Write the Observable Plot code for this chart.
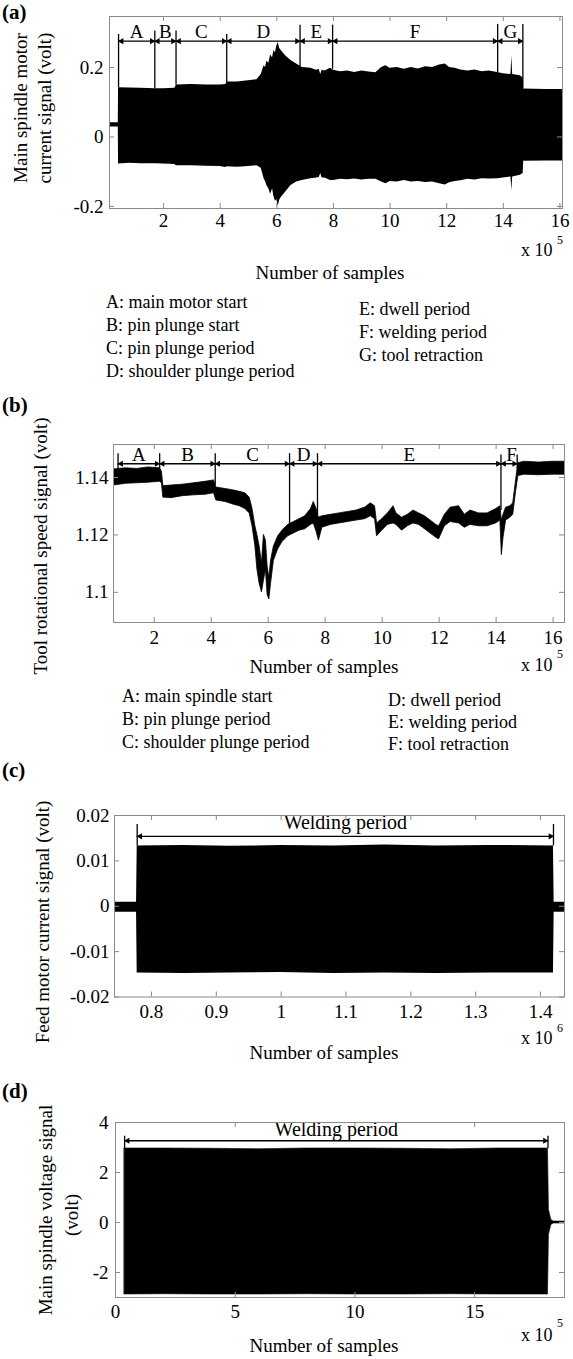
<!DOCTYPE html>
<html><head><meta charset="utf-8">
<script src="https://cdn.jsdelivr.net/npm/d3@7"></script>
<script src="https://cdn.jsdelivr.net/npm/@observablehq/plot@0.6"></script>
<style>
html,body{margin:0;padding:0;background:#fff;}
#fig{position:relative;width:573px;height:1359px;overflow:hidden;background:#fff;font-family:"Liberation Serif","DejaVu Serif",serif;color:#000;}
.t{position:absolute;white-space:nowrap;line-height:1;}
.plot{position:absolute;left:0;}
</style></head><body><div id="fig"></div>
<script>
// ---------- (a) main spindle motor current (x in units of 1e5 samples) ----------
const aSample = [0.09,0.40,0.41,0.8,1.2,1.69,2.0,2.40,2.45,3.0,3.5,4.0,4.2,4.25,4.6,5.0,5.3,5.45,5.55,5.6,5.65,5.72,5.78,5.85,5.9,5.95,6.0,6.05,6.1,6.15,6.3,6.5,6.7,6.9,7.2,7.4,7.5,7.55,7.6,7.7,7.9,8.0,8.25,8.5,8.75,9.0,9.25,9.5,9.7,9.85,10.0,10.25,10.5,10.75,11.0,11.25,11.5,11.75,11.95,12.1,12.3,12.5,12.75,13.0,13.25,13.5,13.8,14.0,14.27,14.3,14.33,14.6,14.7,14.72,15.5,16.09];
const aUpper = [0.041,0.041,0.142,0.141,0.140,0.139,0.139,0.140,0.150,0.151,0.150,0.150,0.151,0.158,0.158,0.162,0.165,0.180,0.205,0.200,0.218,0.212,0.236,0.228,0.250,0.242,0.262,0.272,0.255,0.250,0.235,0.220,0.210,0.200,0.198,0.192,0.194,0.180,0.192,0.190,0.198,0.192,0.188,0.190,0.186,0.190,0.187,0.185,0.200,0.205,0.198,0.200,0.195,0.200,0.196,0.202,0.200,0.207,0.210,0.200,0.198,0.193,0.190,0.193,0.188,0.190,0.186,0.182,0.180,0.233,0.180,0.176,0.170,0.138,0.137,0.137];
const aLower = [0.029,0.029,-0.078,-0.076,-0.077,-0.077,-0.078,-0.079,-0.083,-0.083,-0.084,-0.085,-0.088,-0.086,-0.087,-0.085,-0.083,-0.090,-0.120,-0.128,-0.140,-0.150,-0.165,-0.150,-0.172,-0.185,-0.180,-0.200,-0.182,-0.175,-0.160,-0.140,-0.130,-0.125,-0.120,-0.118,-0.117,-0.105,-0.118,-0.118,-0.125,-0.125,-0.122,-0.123,-0.121,-0.124,-0.122,-0.122,-0.130,-0.135,-0.128,-0.130,-0.125,-0.130,-0.128,-0.131,-0.130,-0.135,-0.138,-0.132,-0.128,-0.126,-0.122,-0.124,-0.120,-0.121,-0.120,-0.118,-0.115,-0.155,-0.115,-0.110,-0.105,-0.070,-0.069,-0.069];
const aBounds = [0.41,1.69,2.44,4.23,6.82,7.97,13.8,14.69];
const aBoundTop = [0.295,0.305,0.305,0.295,0.322,0.322,0.324,0.324];
const aBoundBottom = [0.142,0.139,0.150,0.156,0.200,0.195,0.186,0.140];
const aPhases = ["A","B","C","D","E","F","G"];
const aXTicks = [2,4,6,8,10,12,14,16];
const aYTicks = [-0.2,0,0.2];
const aLegendLeft = ["A: main motor start","B: pin plunge start","C: pin plunge period","D: shoulder plunge period"];
const aLegendRight = ["E: dwell period","F: welding period","G: tool retraction"];

// ---------- (b) tool rotational speed (x in units of 1e5 samples) ----------
const bSample = [0.57,1.0,1.4,1.8,2.2,2.27,2.32,2.6,3.0,3.4,3.8,4.1,4.18,4.5,4.8,5.0,5.2,5.35,5.45,5.55,5.62,5.7,5.78,5.85,5.92,5.98,6.04,6.1,6.2,6.35,6.5,6.7,6.9,7.1,7.3,7.5,7.6,7.7,7.78,7.9,8.2,8.5,8.8,9.1,9.4,9.6,9.75,9.82,10.0,10.2,10.4,10.5,10.7,10.9,11.1,11.3,11.5,11.7,11.9,12.0,12.2,12.4,12.7,12.9,13.1,13.4,13.7,14.0,14.15,14.2,14.26,14.35,14.5,14.6,14.7,14.78,15.0,15.5,16.0,16.4];
const bLow = [1.1372,1.1378,1.1380,1.1382,1.1385,1.1380,1.1330,1.1328,1.1335,1.1338,
  1.1340,1.1345,1.1320,1.1315,1.1305,1.1300,1.1290,1.1275,1.1230,1.1160,
  1.1080,1.1030,1.1000,1.1040,1.1080,1.0990,1.0975,1.1030,1.1110,1.1150,
  1.1175,1.1195,1.1205,1.1215,1.1220,1.1235,1.1240,1.1210,1.1180,1.1225,
  1.1235,1.1240,1.1245,1.1250,1.1255,1.1265,1.1255,1.1195,1.1215,1.1235,
  1.1240,1.1235,1.1215,1.1230,1.1240,1.1235,1.1220,1.1205,1.1190,1.1185,
  1.1230,1.1245,1.1240,1.1225,1.1235,1.1230,1.1230,1.1240,1.1250,1.1130,
  1.1190,1.1250,1.1260,1.1270,1.1350,1.1405,1.1410,1.1408,1.1410,1.1410];
const bHigh = [1.1428,1.1432,1.1430,1.1435,1.1432,1.1420,1.1370,1.1372,1.1375,1.1380,
  1.1385,1.1390,1.1365,1.1360,1.1355,1.1350,1.1345,1.1330,1.1290,1.1230,
  1.1200,1.1160,1.1100,1.1200,1.1180,1.1090,1.1050,1.1110,1.1160,1.1195,
  1.1215,1.1235,1.1245,1.1255,1.1265,1.1290,1.1315,1.1290,1.1260,1.1265,
  1.1270,1.1275,1.1280,1.1285,1.1295,1.1310,1.1300,1.1240,1.1255,1.1275,
  1.1300,1.1275,1.1260,1.1270,1.1285,1.1275,1.1265,1.1250,1.1235,1.1230,
  1.1270,1.1295,1.1300,1.1270,1.1285,1.1275,1.1275,1.1290,1.1300,1.1250,
  1.1270,1.1295,1.1300,1.1310,1.1390,1.1450,1.1455,1.1452,1.1455,1.1455];
const bBounds = [0.73,2.19,4.14,6.75,7.73,14.17,14.74];
const bBoundTop = [1.1483,1.1483,1.1483,1.1483,1.1483,1.1478,1.1478];
const bBoundBottom = [1.1420,1.1390,1.1372,1.1233,1.1270,1.1285,1.1430];
const bPhases = ["A","B","C","D","E","F"];
const bXTicks = [2,4,6,8,10,12,14,16];
const bYTicks = [1.1,1.12,1.14];
const bLegendLeft = ["A: main spindle start","B: pin plunge period","C: shoulder plunge period"];
const bLegendRight = ["D: dwell period","E: welding period","F: tool retraction"];

// ---------- (c) feed motor current (x in units of 1e6 samples) ----------
const cSample = [0.743,0.777,0.778,0.85,0.92,1.0,1.08,1.16,1.24,1.32,1.42,1.421,1.437];
const cUpper = [0.0009,0.0009,0.0133,0.0134,0.0132,0.0134,0.0133,0.0135,0.0133,0.0134,0.0133,0.0009,0.0009];
const cLower = [-0.0013,-0.0013,-0.0147,-0.0148,-0.0147,-0.0146,-0.0148,-0.0147,-0.0148,-0.0147,-0.0147,-0.0013,-0.0013];
const cWeld = [0.778,1.42];
const cXTicks = [0.8,0.9,1,1.1,1.2,1.3,1.4];
const cYTicks = [-0.02,-0.01,0,0.01,0.02];

// ---------- (d) main spindle voltage (x in units of 1e5 samples) ----------
const dSample = [0.38,2,4,6,8,10,12,14,16,18.06,18.1,18.2,18.3,18.75];
const dUpper = [2.96,2.96,2.95,2.93,2.96,2.96,2.95,2.93,2.96,2.96,0.5,0.1,0.04,0.04];
const dLower = [-2.88,-2.87,-2.88,-2.88,-2.87,-2.88,-2.88,-2.87,-2.88,-2.88,-0.5,-0.1,-0.04,-0.04];
const dWeld = [0.38,18.06];
const dXTicks = [0,5,10,15];
const dYTicks = [-2,0,2,4];

const weldLabel = "Welding period";
const xLabel = "Number of samples";

// ---------------------------------------------------------------
const fig = document.getElementById("fig");
const GRAY = "#8a8a8a";
const FONT = '"Liberation Serif","DejaVu Serif",serif';

function txt(s, x, y, o = {}) {
  const d = document.createElement("div");
  d.className = "t";
  d.textContent = s;
  d.style.fontSize = (o.size || 19) + "px";
  if (o.bold) d.style.fontWeight = "bold";
  d.style.left = x + "px";
  d.style.top = y + "px";
  const tx = o.anchor === "start" ? "0" : "-50%";
  d.style.transform = `translate(${tx},-50%)` + (o.rotate ? " rotate(-90deg)" : "");
  fig.appendChild(d);
}
function tbl(xs, lo, hi) { return xs.map((x, i) => ({x, lo: lo[i], hi: hi[i]})); }

function phaseMarks(bounds, tops, bottoms, names, yArrow, yText, textX) {
  const segs = names.map((n, i) => ({s: bounds[i], e: bounds[i + 1], n, c: textX ? textX[i] : (bounds[i] + bounds[i + 1]) / 2}));
  return [
    Plot.ruleX(bounds.map((b, i) => ({x: b, y1: bottoms[i], y2: tops[i]})), {x: "x", y1: "y1", y2: "y2", stroke: "#000", strokeWidth: 1.3}),
    Plot.ruleY([0], {y: () => yArrow, x1: () => bounds[0], x2: () => bounds[bounds.length - 1], stroke: "#000", strokeWidth: 1.3}),
    Plot.dot(segs, {x: "s", y: () => yArrow, symbol: "triangle", r: 2.3, fill: "#000", stroke: null, rotate: -90, dx: 3}),
    Plot.dot(segs, {x: "e", y: () => yArrow, symbol: "triangle", r: 2.3, fill: "#000", stroke: null, rotate: 90, dx: -3}),
    Plot.text(segs, {x: "c", y: () => yText, text: "n", fontSize: 19, fill: "#000"})
  ];
}
function weldMarks(w, top, bottom, yArrow, yText) {
  return [
    Plot.ruleX(w.map(x => ({x, y1: bottom, y2: top})), {x: "x", y1: "y1", y2: "y2", stroke: "#000", strokeWidth: 1.3}),
    Plot.ruleY([0], {y: () => yArrow, x1: () => w[0], x2: () => w[1], stroke: "#000", strokeWidth: 1.3}),
    Plot.dot([w[0]], {x: d => d, y: () => yArrow, symbol: "triangle", r: 2.3, fill: "#000", rotate: -90, dx: 3}),
    Plot.dot([w[1]], {x: d => d, y: () => yArrow, symbol: "triangle", r: 2.3, fill: "#000", rotate: 90, dx: -3}),
    Plot.text([weldLabel], {x: () => (w[0] + w[1]) / 2, y: () => yText, text: d => d, fontSize: 20, fill: "#000"})
  ];
}

function panel(p) {
  const fw = 573 - p.ml - p.mr, fh = p.height - p.mt - p.mb;
  const svg = Plot.plot({
    width: 573, height: p.height,
    marginLeft: p.ml, marginRight: p.mr, marginTop: p.mt, marginBottom: p.mb,
    x: {domain: p.xDomain}, y: {domain: p.yDomain},
    style: {fontFamily: FONT, fontSize: "19px", background: "transparent", color: "#000", overflow: "visible"},
    marks: [
      ...p.marks,
      Plot.frame({stroke: GRAY, strokeWidth: 1}),
      Plot.ruleX(p.xTicks, {x: d => d, stroke: GRAY, insetTop: fh - 5}),
      Plot.ruleX(p.xTicks, {x: d => d, stroke: GRAY, insetBottom: fh - 5}),
      Plot.ruleY(p.yTicks, {y: d => d, stroke: GRAY, insetRight: fw - 5}),
      Plot.ruleY(p.yTicks, {y: d => d, stroke: GRAY, insetLeft: fw - 5}),
      Plot.axisX({ticks: p.xTicks, tickSize: 0, tickPadding: p.xPad, tickFormat: d => String(d), label: null, fontSize: 19}),
      Plot.axisY({ticks: p.yTicks, tickSize: 0, tickPadding: p.yPad, tickFormat: d => String(d), label: null, fontSize: 19})
    ]
  });
  svg.classList.add("plot");
  svg.style.top = p.top + "px";
  fig.appendChild(svg);
}

// (a)
panel({top: 0, height: 240, ml: 109, mr: 11, mt: 16, mb: 32,
  xDomain: [0.09, 16.09], yDomain: [-0.206, 0.347], xTicks: aXTicks, yTicks: aYTicks, xPad: 5, yPad: 6,
  marks: [
    Plot.areaY(tbl(aSample, aLower, aUpper), {x: "x", y1: "lo", y2: "hi", fill: "#000", clip: true}),
    ...phaseMarks(aBounds, aBoundTop, aBoundBottom, aPhases, 0.276, 0.302)
  ]});
// (b)
panel({top: 420, height: 230, ml: 113, mr: 9, mt: 24, mb: 28,
  xDomain: [0.57, 16.4], yDomain: [1.0895, 1.1515], xTicks: bXTicks, yTicks: bYTicks, xPad: 8, yPad: 5,
  marks: [
    Plot.areaY(tbl(bSample, bLow, bHigh), {x: "x", y1: "lo", y2: "hi", fill: "#000", stroke: "#000", strokeWidth: 0.8, clip: true}),
    ...phaseMarks(bBounds, bBoundTop, bBoundBottom, bPhases, 1.1448, 1.1478, [1.46, 3.17, 5.45, 7.24, 10.95, 14.54])
  ]});
// (c)
panel({top: 790, height: 230, ml: 114, mr: 9, mt: 25, mb: 23.5,
  xDomain: [0.743, 1.437], yDomain: [-0.02, 0.02], xTicks: cXTicks, yTicks: cYTicks, xPad: 7, yPad: 5,
  marks: [
    Plot.areaY(tbl(cSample, cLower, cUpper), {x: "x", y1: "lo", y2: "hi", fill: "#000", clip: true}),
    ...weldMarks(cWeld, 0.0180, 0.0133, 0.0154, 0.0185)
  ]});
// (d)
panel({top: 1100, height: 230, ml: 115, mr: 9, mt: 22, mb: 33,
  xDomain: [0, 18.75], yDomain: [-3, 4], xTicks: dXTicks, yTicks: dYTicks, xPad: 7, yPad: 7,
  marks: [
    Plot.areaY(tbl(dSample, dLower, dUpper), {x: "x", y1: "lo", y2: "hi", fill: "#000", stroke: "#000", strokeWidth: 0.6, clip: true}),
    ...weldMarks(dWeld, 3.45, 2.96, 3.27, 3.72)
  ]});

// ---- text around the panels ----
txt("(a)", 2, 12, {anchor: "start", bold: true, size: 21});
txt("Main spindle motor", 20, 108, {rotate: true});
txt("current signal (volt)", 44, 108, {rotate: true});
txt(xLabel, 330, 272);
txt("x 10", 521, 250, {anchor: "start", size: 18});
txt("5", 557, 240, {anchor: "start", size: 12});
aLegendLeft.forEach((s, i) => txt(s, 106, 302 + 23 * i, {anchor: "start", size: 18}));
aLegendRight.forEach((s, i) => txt(s, 359, 309 + 23 * i, {anchor: "start", size: 18}));

txt("(b)", 2, 405, {anchor: "start", bold: true, size: 21});
txt("Tool rotational speed signal (volt)", 40, 546, {rotate: true});
txt(xLabel, 324, 666);
txt("x 10", 521, 665, {anchor: "start", size: 18});
txt("5", 557, 654, {anchor: "start", size: 12});
bLegendLeft.forEach((s, i) => txt(s, 122, 696 + 23 * i, {anchor: "start", size: 18}));
bLegendRight.forEach((s, i) => txt(s, 388, 700 + 22 * i, {anchor: "start", size: 18}));

txt("(c)", 2, 770, {anchor: "start", bold: true, size: 21});
txt("Feed motor current signal (volt)", 42, 922, {rotate: true});
txt(xLabel, 324, 1052);
txt("x 10", 521, 1038, {anchor: "start", size: 18});
txt("6", 557, 1028, {anchor: "start", size: 12});

txt("(d)", 2, 1091, {anchor: "start", bold: true, size: 21});
txt("Main spindle voltage signal", 45, 1210, {rotate: true});
txt("(volt)", 71, 1215, {rotate: true});
txt(xLabel, 324, 1345);
txt("x 10", 521, 1335, {anchor: "start", size: 18});
txt("5", 557, 1323, {anchor: "start", size: 12});
</script></body></html>
